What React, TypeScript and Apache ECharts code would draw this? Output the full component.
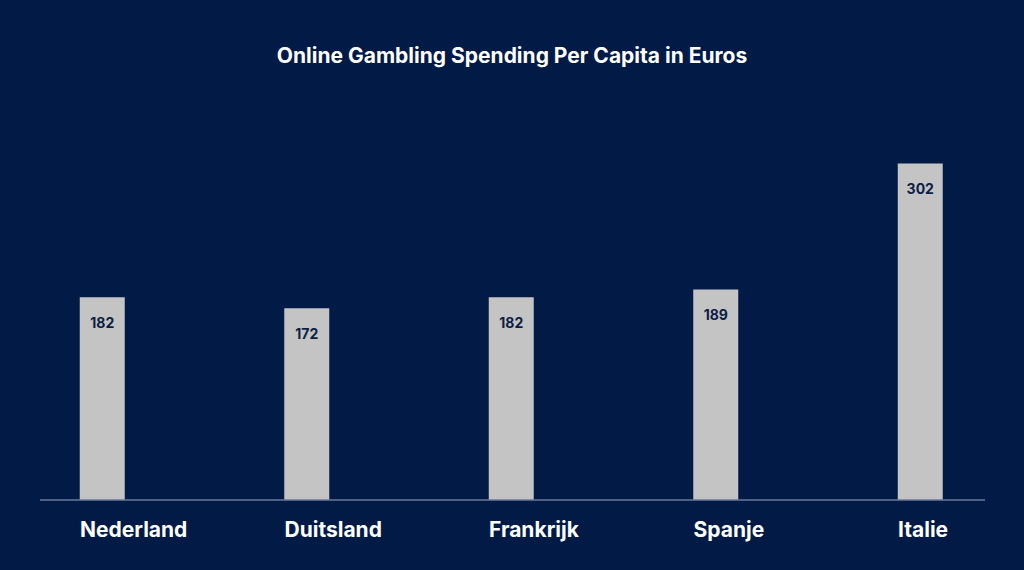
import React, { useEffect, useRef } from 'react';
import * as echarts from 'echarts';

const countries = ['Nederland', 'Duitsland', 'Frankrijk', 'Spanje', 'Italie'];
const spending = [182, 172, 182, 189, 302];

const App: React.FC = () => {
  const chartRef = useRef<HTMLDivElement>(null);

  useEffect(() => {
    document.body.style.margin = '0';
    if (!chartRef.current) return;

    const font = 'Inter, "Open Sans", sans-serif';

    const option = {
      animation: false,
      backgroundColor: '#011a46',
      title: {
        text: 'Online Gambling Spending Per Capita in Euros',
        left: 'center',
        top: 40,
        textStyle: {
          color: '#ffffff',
          fontFamily: font,
          fontSize: 21,
          fontWeight: 700
        }
      },
      grid: [
        // bars
        { left: 0, right: 1.5, top: 110, bottom: 70, outerBoundsMode: 'none' },
        // labels, shifted so they start at the bar's left edge
        { left: -22.25, right: 23.75, top: 110, bottom: 70, outerBoundsMode: 'none' }
      ],
      xAxis: [
        {
          type: 'category',
          gridIndex: 0,
          data: countries,
          axisLine: { show: false },
          axisTick: { show: false },
          axisLabel: { show: false }
        },
        {
          type: 'category',
          gridIndex: 1,
          data: countries,
          axisLine: { show: false },
          axisTick: { show: false },
          axisLabel: {
            align: 'left',
            margin: 19,
            color: '#ffffff',
            fontFamily: font,
            fontSize: 21,
            fontWeight: 700
          }
        }
      ],
      yAxis: [
        { type: 'value', gridIndex: 0, min: 0, max: 350, show: false, splitLine: { show: false } },
        { type: 'value', gridIndex: 1, min: 0, max: 350, show: false, splitLine: { show: false } }
      ],
      graphic: [
        {
          type: 'line',
          shape: { x1: 40, y1: 500, x2: 985, y2: 500 },
          style: { stroke: '#6b7897', lineWidth: 1.5 },
          z: 10
        }
      ],
      series: [
        {
          type: 'bar',
          xAxisIndex: 0,
          yAxisIndex: 0,
          data: spending,
          barWidth: 45,
          itemStyle: { color: '#c4c4c4' },
          label: {
            show: true,
            position: 'insideTop',
            distance: 18,
            color: '#0d1e45',
            fontFamily: font,
            fontSize: 14,
            fontWeight: 700
          }
        }
      ]
    };

    const chart = echarts.init(chartRef.current, null, { renderer: 'svg' });
    chart.setOption(option);

    return () => {
      chart.dispose();
    };
  }, []);

  return <div ref={chartRef} style={{ width: '1024px', height: '570px' }}></div>;
};

export default App;
